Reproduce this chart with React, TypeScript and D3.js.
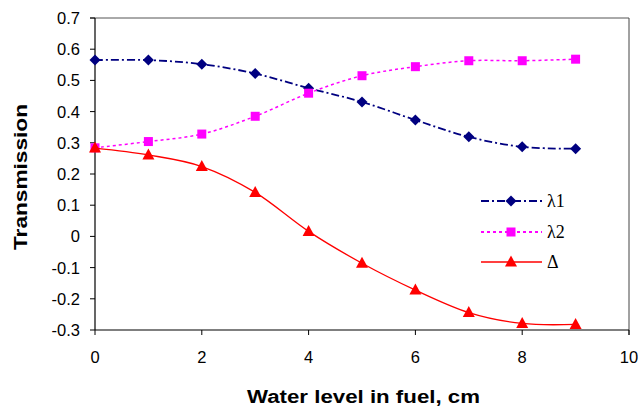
import React from "react";
import * as d3 from "d3";

// Water level (cm) and transmission readings
const levels = [0, 1, 2, 3, 4, 5, 6, 7, 8, 9];
const lambda1 = [0.565, 0.565, 0.552, 0.522, 0.475, 0.431, 0.373, 0.319, 0.287, 0.281];
const lambda2 = [0.284, 0.304, 0.328, 0.385, 0.459, 0.515, 0.544, 0.563, 0.563, 0.568];
const delta = [0.283, 0.261, 0.224, 0.141, 0.016, -0.086, -0.172, -0.244, -0.279, -0.282];
const xTicks = [0, 2, 4, 6, 8, 10];
const yTicks = [0.7, 0.6, 0.5, 0.4, 0.3, 0.2, 0.1, 0, -0.1, -0.2, -0.3];
const seriesNames = ["λ1", "λ2", "Δ"];

const W = 640;
const H = 410;
const left = 95;
const right = 629;
const top = 18;
const bottom = 330;

const sans = "'Liberation Sans', Arial, sans-serif";
const serif = "'Liberation Serif', 'DejaVu Serif', 'Times New Roman', serif";

export default function App() {
  const x = d3.scaleLinear().domain([0, 10]).range([left, right]);
  const y = d3.scaleLinear().domain([-0.3, 0.7]).range([bottom, top]);

  const line = d3
    .line<number>()
    .x((_, i) => x(levels[i]))
    .y((d) => y(d))
    .curve(d3.curveCatmullRom.alpha(0));

  const series = [
    { name: seriesNames[0], values: lambda1, color: "#000080", dash: "8,3,2,3", width: 1.8, marker: "diamond" },
    { name: seriesNames[1], values: lambda2, color: "#FF00FF", dash: "3,3", width: 1.5, marker: "square" },
    { name: seriesNames[2], values: delta, color: "#FF0000", dash: "none", width: 1.3, marker: "triangle" },
  ];

  const marker = (kind: string, cx: number, cy: number, color: string, key: string | number) => {
    if (kind === "diamond") {
      const r = 5.5;
      return <path key={key} d={`M${cx},${cy - r}L${cx + r},${cy}L${cx},${cy + r}L${cx - r},${cy}Z`} fill={color} />;
    }
    if (kind === "square") {
      return <rect key={key} x={cx - 4.5} y={cy - 4.5} width={9} height={9} fill={color} />;
    }
    return <path key={key} d={`M${cx},${cy - 6.5}L${cx + 6},${cy + 4.5}L${cx - 6},${cy + 4.5}Z`} fill={color} />;
  };

  const legendX = 481;
  const legendRows = [201, 232, 262];

  return (
    <svg width={W} height={H} style={{ position: "absolute", left: 0, top: 0, background: "#fff" }}>
      {/* frame */}
      <line x1={left - 5} y1={top} x2={right} y2={top} stroke="#555" strokeWidth={1} />
      <line x1={right} y1={top} x2={right} y2={bottom + 5} stroke="#444" strokeWidth={1} />
      <line x1={left} y1={top} x2={left} y2={bottom} stroke="#000" strokeWidth={1.2} />
      <line x1={left} y1={bottom} x2={right} y2={bottom} stroke="#000" strokeWidth={1.2} />

      {/* y ticks */}
      {yTicks.map((t) => (
        <g key={"y" + t}>
          <line x1={left - 5} x2={left} y1={y(t)} y2={y(t)} stroke="#000" />
          <text x={80} y={y(t)} dy="0.36em" textAnchor="end" style={{ fontFamily: sans, fontSize: 16.5 }}>
            {t === 0 ? "0" : d3.format(".1f")(t).replace("−", "-")}
          </text>
        </g>
      ))}

      {/* x ticks */}
      {xTicks.map((t) => (
        <g key={"x" + t}>
          <line x1={x(t)} x2={x(t)} y1={bottom} y2={bottom + 5} stroke="#000" />
          <text x={x(t)} y={363} textAnchor="middle" style={{ fontFamily: sans, fontSize: 16.5 }}>
            {t}
          </text>
        </g>
      ))}

      {/* series */}
      {series.map((s) => (
        <g key={s.name}>
          <path
            d={line(s.values) || ""}
            fill="none"
            stroke={s.color}
            strokeWidth={s.width}
            strokeDasharray={s.dash}
          />
          {s.values.map((v, i) => marker(s.marker, x(levels[i]), y(v), s.color, i))}
        </g>
      ))}

      {/* legend */}
      {series.map((s, i) => (
        <g key={"lg" + s.name}>
          <line
            x1={legendX}
            x2={legendX + 61}
            y1={legendRows[i]}
            y2={legendRows[i]}
            stroke={s.color}
            strokeWidth={s.width + 0.4}
            strokeDasharray={s.dash}
          />
          {marker(s.marker, legendX + 30, legendRows[i], s.color, "m")}
          <text x={legendX + 66} y={legendRows[i]} dy="0.35em" style={{ fontFamily: serif, fontSize: 18 }}>
            {s.name}
          </text>
        </g>
      ))}

      {/* axis titles */}
      <text
        x={247}
        y={403}
        style={{ fontFamily: sans, fontWeight: "bold", fontSize: 18 }}
        textLength={233}
        lengthAdjust="spacingAndGlyphs"
      >
        Water level in fuel, cm
      </text>
      <text
        transform={`translate(27,250) rotate(-90)`}
        style={{ fontFamily: sans, fontWeight: "bold", fontSize: 18 }}
        textLength={146}
        lengthAdjust="spacingAndGlyphs"
      >
        Transmission
      </text>
    </svg>
  );
}
